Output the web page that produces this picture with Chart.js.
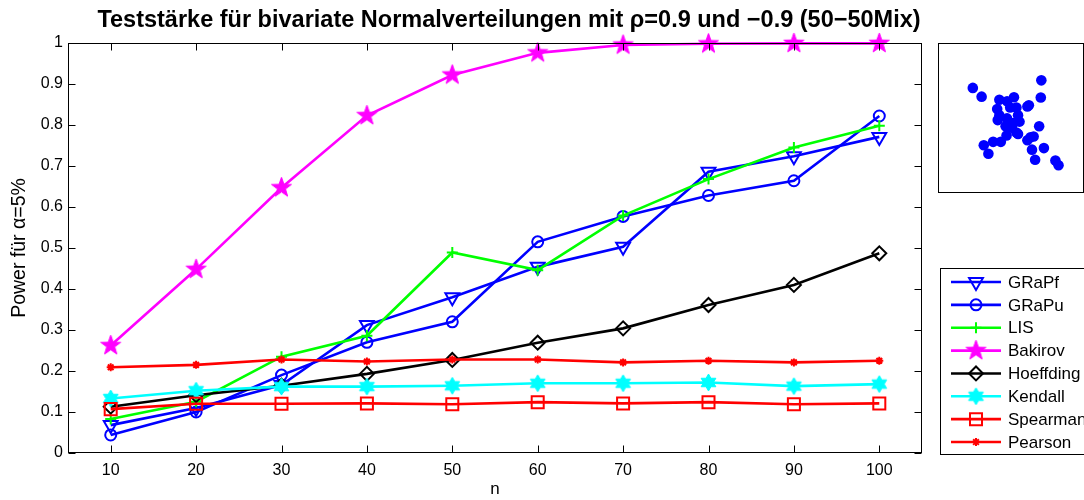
<!DOCTYPE html>
<html>
<head>
<meta charset="utf-8">
<script src="https://cdn.jsdelivr.net/npm/chart.js"></script>
<style>
  html, body { margin: 0; padding: 0; background: #fff; }
  #wrap { position: relative; width: 1084px; height: 500px; overflow: hidden; }
  #main { position: absolute; left: 0; top: 0; }
  #inset { position: absolute; left: 938px; top: 43px; }
</style>
</head>
<body>
<div id="wrap">
  <canvas id="main" width="1084" height="500"></canvas>
  <canvas id="inset" width="146" height="150"></canvas>
</div>
<script>
// ---------- data ----------
const nValues = [10, 20, 30, 40, 50, 60, 70, 80, 90, 100];
const xTickValues = [10, 20, 30, 40, 50, 60, 70, 80, 90, 100];
const yTickValues = [0, 0.1, 0.2, 0.3, 0.4, 0.5, 0.6, 0.7, 0.8, 0.9, 1];
const yTickLabels = ['0', '0.1', '0.2', '0.3', '0.4', '0.5', '0.6', '0.7', '0.8', '0.9', '1'];

const seriesNames = ['GRaPf', 'GRaPu', 'LIS', 'Bakirov', 'Hoeffding', 'Kendall', 'Spearman', 'Pearson'];
const grapf     = [0.068, 0.110, 0.166, 0.312, 0.380, 0.454, 0.503, 0.686, 0.724, 0.771];
const grapu     = [0.044, 0.100, 0.190, 0.270, 0.320, 0.515, 0.577, 0.628, 0.664, 0.822];
const lis       = [0.083, 0.125, 0.235, 0.286, 0.489, 0.446, 0.579, 0.668, 0.745, 0.798];
const bakirov   = [0.262, 0.448, 0.647, 0.823, 0.922, 0.976, 0.995, 0.998, 0.999, 0.999];
const hoeffding = [0.113, 0.141, 0.164, 0.193, 0.227, 0.269, 0.304, 0.361, 0.410, 0.487];
const kendall   = [0.133, 0.152, 0.162, 0.162, 0.164, 0.170, 0.170, 0.172, 0.163, 0.168];
const spearman  = [0.107, 0.120, 0.120, 0.121, 0.119, 0.124, 0.121, 0.124, 0.119, 0.121];
const pearson   = [0.209, 0.215, 0.228, 0.223, 0.228, 0.228, 0.221, 0.225, 0.221, 0.225];

const insetX = [0.218, 0.283, 0.414, 0.471, 0.522, 0.398, 0.414, 0.402, 0.494, 0.540, 0.552, 0.563, 0.621, 0.632, 0.471, 0.460, 0.506, 0.540, 0.552, 0.724, 0.720, 0.708, 0.467, 0.425, 0.368, 0.299, 0.333, 0.621, 0.644, 0.667, 0.655, 0.743, 0.678, 0.828, 0.851, 0.494, 0.517];
const insetY = [0.716, 0.653, 0.631, 0.620, 0.649, 0.564, 0.519, 0.485, 0.575, 0.575, 0.519, 0.474, 0.582, 0.591, 0.497, 0.441, 0.430, 0.396, 0.385, 0.770, 0.647, 0.441, 0.374, 0.329, 0.329, 0.304, 0.244, 0.340, 0.362, 0.367, 0.273, 0.284, 0.201, 0.195, 0.161, 0.452, 0.463];

const titleText = 'Teststärke für bivariate Normalverteilungen mit ρ=0.9 und −0.9 (50−50Mix)';

// ---------- marker images ----------
function starCanvas(points, outerR, innerR, color) {
  const size = Math.ceil(outerR * 2 + 2);
  const c = document.createElement('canvas');
  c.width = size; c.height = size;
  const g = c.getContext('2d');
  const cx = size / 2, cy = size / 2;
  g.beginPath();
  for (let k = 0; k < points * 2; k++) {
    const r = k % 2 === 0 ? outerR : innerR;
    const a = -Math.PI / 2 + k * Math.PI / points;
    const px = cx + r * Math.cos(a), py = cy + r * Math.sin(a);
    if (k === 0) g.moveTo(px, py); else g.lineTo(px, py);
  }
  g.closePath();
  g.fillStyle = color;
  g.fill();
  g.strokeStyle = color;
  g.lineWidth = 1;
  g.stroke();
  return c;
}
const pentagram = starCanvas(5, 10.5, 4.2, '#ff00ff');
const hexagram = starCanvas(6, 8.5, 4.9, '#00ffff');

const allValues = [grapf, grapu, lis, bakirov, hoeffding, kendall, spearman, pearson];
const colors = ['#0000ff', '#0000ff', '#00ff00', '#ff00ff', '#000000', '#00ffff', '#ff0000', '#ff0000'];
const styles = ['triangle', 'circle', 'cross', pentagram, 'rectRot', hexagram, 'rect', 'star'];
const radii = [8, 5.5, 5.5, 10, 7, 8, 8.5, 4];
const rotations = [180, 0, 0, 0, 0, 0, 0, 0];
const pointBorder = [2, 2, 2, 1, 2, 1, 2, 2];

const datasets = allValues.map((vals, i) => ({
  label: seriesNames[i],
  data: nValues.map((n, j) => ({ x: n, y: vals[j] })),
  borderColor: colors[i],
  backgroundColor: 'rgba(0,0,0,0)',
  borderWidth: 2.6,
  pointStyle: styles[i],
  pointRadius: radii[i],
  pointRotation: rotations[i],
  pointBorderColor: colors[i],
  pointBackgroundColor: 'rgba(0,0,0,0)',
  pointBorderWidth: pointBorder[i],
  tension: 0,
  fill: false,
  clip: false,
  order: -i
}));

// ---------- plugins ----------
const framePlugin = {
  id: 'frame',
  afterDraw(chart) {
    const { ctx, chartArea: a, scales } = chart;
    ctx.save();
    ctx.strokeStyle = '#000';
    ctx.lineWidth = 1;
    const L = Math.round(a.left) + 0.5, R = Math.round(a.right) - 0.5;
    const T = Math.round(a.top) + 0.5, B = Math.round(a.bottom) - 0.5;
    ctx.strokeRect(L, T, R - L, B - T);
    const tl = 7;
    ctx.beginPath();
    xTickValues.forEach(v => {
      const x = Math.round(scales.x.getPixelForValue(v)) + 0.5;
      ctx.moveTo(x, B); ctx.lineTo(x, B - tl);
      ctx.moveTo(x, T); ctx.lineTo(x, T + tl);
    });
    yTickValues.forEach(v => {
      const y = Math.round(scales.y.getPixelForValue(v)) + 0.5;
      ctx.moveTo(L, y); ctx.lineTo(L + tl, y);
      ctx.moveTo(R, y); ctx.lineTo(R - tl, y);
    });
    ctx.stroke();

    // title
    ctx.fillStyle = '#000';
    ctx.font = 'bold 23.5px "Liberation Sans", Arial, sans-serif';
    ctx.textAlign = 'center';
    ctx.textBaseline = 'alphabetic';
    ctx.fillText(titleText, 509, 27);

    // legend
    const lx = 940.5, ly = 268.5;
    ctx.fillStyle = '#fff';
    ctx.fillRect(lx, ly, 200, 186);
    ctx.strokeStyle = '#000';
    ctx.lineWidth = 1;
    ctx.strokeRect(lx, ly, 200, 186);
    const step = 22.86;
    chart.data.datasets.forEach((ds, i) => {
      const y = 282 + i * step;
      ctx.save();
      ctx.strokeStyle = ds.borderColor;
      ctx.lineWidth = ds.borderWidth;
      ctx.beginPath();
      ctx.moveTo(951, y); ctx.lineTo(1001, y);
      ctx.stroke();
      ctx.fillStyle = ds.pointBackgroundColor;
      ctx.strokeStyle = ds.pointBorderColor;
      ctx.lineWidth = ds.pointBorderWidth;
      if (Chart.helpers && Chart.helpers.drawPoint) {
        Chart.helpers.drawPoint(ctx, {
          pointStyle: ds.pointStyle,
          radius: ds.pointRadius,
          rotation: ds.pointRotation,
          borderWidth: ds.pointBorderWidth
        }, 976, y);
      }
      ctx.restore();
      ctx.fillStyle = '#000';
      ctx.font = '17px "Liberation Sans", Arial, sans-serif';
      ctx.textAlign = 'left';
      ctx.textBaseline = 'middle';
      ctx.fillText(ds.label, 1008, y + 1);
    });
    ctx.restore();
  }
};

const tickFont = { family: '"Liberation Sans", Arial, sans-serif', size: 16 };

new Chart(document.getElementById('main'), {
  type: 'line',
  data: { datasets },
  options: {
    responsive: false,
    animation: false,
    devicePixelRatio: 1,
    layout: { padding: { left: 0, right: 162, top: 43, bottom: 0 } },
    plugins: { legend: { display: false }, title: { display: false }, tooltip: { enabled: false } },
    scales: {
      x: {
        type: 'linear',
        min: 5, max: 105,
        afterBuildTicks: s => { s.ticks = xTickValues.map(v => ({ value: v })); },
        afterFit: s => { s.height = 47; },
        grid: { display: false, drawTicks: false },
        border: { display: false },
        ticks: { autoSkip: false, maxRotation: 0, color: '#000', font: tickFont, padding: 8,
                 callback: v => String(v) },
        title: { display: true, text: 'n', color: '#000', font: { family: tickFont.family, size: 17 },
                 padding: { top: 0, bottom: 0 } }
      },
      y: {
        type: 'linear',
        min: 0, max: 1,
        afterBuildTicks: s => { s.ticks = yTickValues.map(v => ({ value: v })); },
        afterFit: s => { s.width = 68; },
        grid: { display: false, drawTicks: false },
        border: { display: false },
        ticks: { autoSkip: false, color: '#000', font: tickFont, padding: 5,
                 callback: (v, i) => yTickLabels[i] },
        title: { display: true, text: 'Power für α=5%', color: '#000',
                 font: { family: tickFont.family, size: 19.5 }, padding: { top: 8, bottom: 0 } }
      }
    }
  },
  plugins: [framePlugin]
});

const insetFrame = {
  id: 'insetFrame',
  afterDraw(chart) {
    const { ctx, width, height } = chart;
    ctx.save();
    ctx.strokeStyle = '#000';
    ctx.lineWidth = 1;
    ctx.strokeRect(0.5, 0.5, width - 1, height - 1);
    ctx.restore();
  }
};

new Chart(document.getElementById('inset'), {
  type: 'scatter',
  data: {
    datasets: [{
      data: insetX.map((x, i) => ({ x, y: insetY[i] })),
      backgroundColor: '#0000ff',
      borderColor: '#0000ff',
      borderWidth: 0,
      pointRadius: 5.3,
      clip: false
    }]
  },
  options: {
    responsive: false,
    animation: false,
    devicePixelRatio: 1,
    layout: { padding: 0 },
    plugins: { legend: { display: false }, title: { display: false }, tooltip: { enabled: false } },
    scales: {
      x: { display: false, min: 0, max: 1 },
      y: { display: false, min: 0, max: 1 }
    }
  },
  plugins: [insetFrame]
});
</script>
</body>
</html>
